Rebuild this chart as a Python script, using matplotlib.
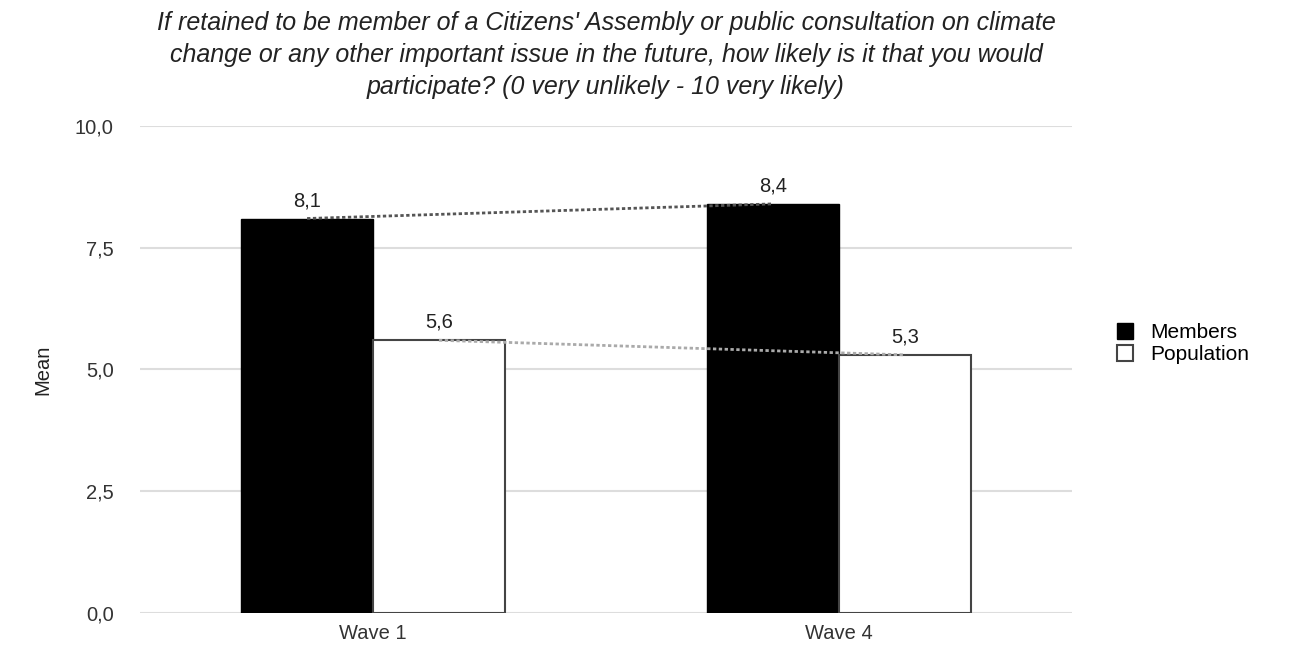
import numpy as np
import matplotlib
matplotlib.use("Agg")
import matplotlib.pyplot as plt

plt.rcParams['font.family'] = ['Liberation Sans', 'DejaVu Sans']

# datos
waves = ['Wave 1', 'Wave 4']
members = [8.1, 8.4]
population = [5.6, 5.3]
yticks = [0.0, 2.5, 5.0, 7.5, 10.0]
titulo = ("If retained to be member of a Citizens' Assembly or public consultation on climate\n"
          "change or any other important issue in the future, how likely is it that you would\n"
          "participate? (0 very unlikely - 10 very likely)")

fs = 14.5

fig = plt.figure(figsize=(12.93, 6.48), dpi=100)
ax = fig.add_axes([0.1083, 0.054, 0.7207, 0.7516])

x = np.arange(len(waves))
w = 0.283

#Barras
ax.bar(x - w/2, members, w, color='black', edgecolor='black', linewidth=1, label='Members', zorder=3)
ax.bar(x + w/2, population, w, color='white', edgecolor='#444444', linewidth=1.5, label='Population', zorder=3)

#Lineas de tendencia
ax.plot(x - w/2, members, linestyle=(0, (1.2, 0.9)), color='#555555', linewidth=2, zorder=4)
ax.plot(x + w/2, population, linestyle=(0, (1.2, 0.9)), color='#aaaaaa', linewidth=2, zorder=4)

#Etiquetas
for xi, v in zip(x - w/2, members):
    ax.text(xi, v + 0.17, str(v).replace('.', ','), ha='center', va='bottom', fontsize=fs, color='#222222', zorder=5)
for xi, v in zip(x + w/2, population):
    ax.text(xi, v + 0.17, str(v).replace('.', ','), ha='center', va='bottom', fontsize=fs, color='#222222', zorder=5)

ax.set_xlim(-0.5, 1.5)
ax.set_ylim(0, 10)
ax.set_yticks(yticks)
ax.set_yticklabels([('%.1f' % t).replace('.', ',') for t in yticks], fontsize=fs, color='#333333')
ax.set_xticks(x)
ax.set_xticklabels(waves, fontsize=fs, color='#333333')
ax.tick_params(axis='y', length=0, pad=19)
ax.tick_params(axis='x', length=0, pad=8)
ax.grid(axis='y', color='#dddddd', linewidth=1.5, zorder=0)
for s in ax.spines.values():
    s.set_visible(False)
ax.set_ylabel('Mean', fontsize=fs, color='#222222', labelpad=16)

fig.text(0.1083 + 0.7207/2, 1 - 11/648, titulo, ha='center', va='top', fontsize=18,
         style='italic', color='#222222', linespacing=1.42)

ax.legend(loc='center left', bbox_to_anchor=(1.028, 0.553), frameon=False, fontsize=15,
          handlelength=0.8, handleheight=0.8, handletextpad=0.8, labelspacing=0.15)

fig.savefig('out.png', dpi=100)
